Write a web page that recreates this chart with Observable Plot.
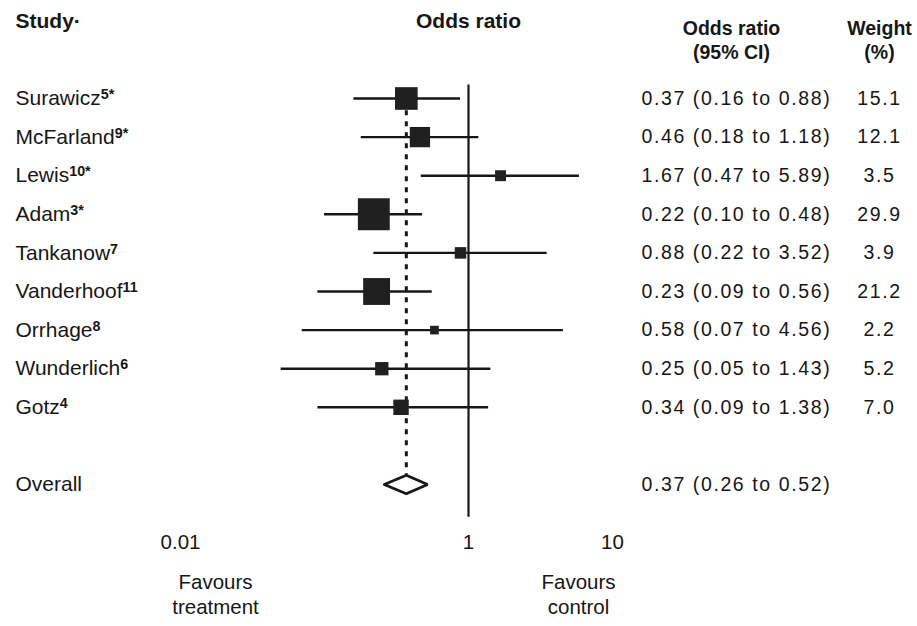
<!DOCTYPE html>
<html><head><meta charset="utf-8">
<script src="https://cdn.jsdelivr.net/npm/d3@7"></script>
<script src="https://cdn.jsdelivr.net/npm/@observablehq/plot@0.6"></script>
<style>
body{margin:0;background:#fff}
.ci text, .wt text{letter-spacing:1.6px}
</style>
</head><body><div id="chart"></div>
<script>
const studies = ["Surawicz","McFarland","Lewis","Adam","Tankanow","Vanderhoof","Orrhage","Wunderlich","Gotz"];
const refs = ["5*","9*","10*","3*","7","11","8","6","4"];
const oddsRatio = [0.37,0.46,1.67,0.22,0.88,0.23,0.58,0.25,0.34];
const ciLow = [0.16,0.18,0.47,0.10,0.22,0.09,0.07,0.05,0.09];
const ciHigh = [0.88,1.18,5.89,0.48,3.52,0.56,4.56,1.43,1.38];
const weights = [15.1,12.1,3.5,29.9,3.9,21.2,2.2,5.2,7.0];
const overallLabel = "Overall";
const overallOR = 0.37, overallLow = 0.26, overallHigh = 0.52;
const xTicks = [0.01, 1, 10];
const headers = {study:"Study·", plot:"Odds ratio", ci:"Odds ratio\n(95% CI)", weight:"Weight\n(%)"};
const favours = ["Favours\ntreatment", "Favours\ncontrol"];

const rows = studies.map((s, i) => ({study: s, ref: refs[i], or: oddsRatio[i], lo: ciLow[i], hi: ciHigh[i], w: weights[i], row: i}));
const overallRow = studies.length + 1;
const overall = [{study: overallLabel, or: overallOR, lo: overallLow, hi: overallHigh, row: overallRow}];
const fmtCI = d => `${d.or.toFixed(2)} (${d.lo.toFixed(2)} to ${d.hi.toFixed(2)})`;
const dh = 0.24;
const diamond = [
  {x: overallLow, y: overallRow}, {x: overallOR, y: overallRow - dh},
  {x: overallHigh, y: overallRow}, {x: overallOR, y: overallRow + dh},
  {x: overallLow, y: overallRow}
];

const ink = "#161616";
const plot = Plot.plot({
  width: 917, height: 626,
  marginLeft: 0, marginRight: 0, marginTop: 0, marginBottom: 95,
  style: {fontFamily: "'Liberation Sans', Arial, sans-serif", fontSize: "20px", background: "#fff", color: ink},
  x: {type: "log", domain: [0.01, 10], range: [180, 612]},
  y: {type: "linear", domain: [0, overallRow], range: [98, 484], axis: null},
  r: {type: "sqrt", domain: [0, d3.max(weights)], range: [0, 18]},
  marks: [
    Plot.axisX({ticks: xTicks, tickFormat: d => String(d), tickSize: 0, tickPadding: 3, fontSize: 20.5, label: null, anchor: "bottom"}),
    Plot.ruleX([1], {y1: -0.35, y2: overallRow + 0.85, stroke: ink, strokeWidth: 2.2}),
    Plot.ruleX([overallOR], {y1: 0.32, y2: overallRow - dh, stroke: ink, strokeWidth: 3, strokeDasharray: "5,6"}),
    Plot.ruleY(rows, {y: "row", x1: "lo", x2: "hi", stroke: ink, strokeWidth: 2.4}),
    Plot.dot(rows, {x: "or", y: "row", r: "w", symbol: "square", fill: "#202020", stroke: "none"}),
    Plot.line(diamond, {x: "x", y: "y", stroke: ink, strokeWidth: 2.6, fill: "#fff", strokeLinejoin: "miter"}),
    Plot.text(rows, {y: "row", text: "study", frameAnchor: "left", dx: 15, textAnchor: "start", fontSize: 21, fill: ink, className: "names"}),
    Plot.text(overall, {y: "row", text: "study", frameAnchor: "left", dx: 15, textAnchor: "start", fontSize: 21, fill: ink}),
    Plot.text(rows.concat(overall), {y: "row", text: fmtCI, frameAnchor: "right", dx: -276, textAnchor: "start", fontSize: 19.5, fill: ink, className: "ci"}),
    Plot.text(rows, {y: "row", text: d => d.w.toFixed(1), frameAnchor: "right", dx: -38, textAnchor: "middle", fontSize: 19.5, fill: ink, className: "wt"}),
    Plot.text([headers.study], {frameAnchor: "top-left", dx: 15, dy: 13, textAnchor: "start", fontSize: 21, fontWeight: "bold", fill: ink}),
    Plot.text([headers.plot], {x: 1, frameAnchor: "top", dy: 13, textAnchor: "middle", fontSize: 21, fontWeight: "bold", fill: ink}),
    Plot.text([headers.ci], {frameAnchor: "top-right", dx: -186, dy: 18, textAnchor: "middle", fontSize: 19.5, lineHeight: 1.2, fontWeight: "bold", fill: ink}),
    Plot.text([headers.weight], {frameAnchor: "top-right", dx: -38, dy: 18, textAnchor: "middle", fontSize: 19.5, lineHeight: 1.2, fontWeight: "bold", fill: ink}),
    Plot.text([favours[0]], {x: xTicks[0], frameAnchor: "bottom", dx: 35, dy: 82, textAnchor: "middle", fontSize: 20.5, lineHeight: 1.22, fill: ink}),
    Plot.text([favours[1]], {x: xTicks[2], frameAnchor: "bottom", dx: -34, dy: 82, textAnchor: "middle", fontSize: 20.5, lineHeight: 1.22, fill: ink})
  ]
});
document.getElementById("chart").appendChild(plot);
d3.select(plot).selectAll("g.names text").each(function(_, i) {
  d3.select(this).append("tspan").attr("dy", "-0.42em").attr("font-size", "0.68em").attr("font-weight", "bold").text(refs[i]);
});
</script>
</body></html>
